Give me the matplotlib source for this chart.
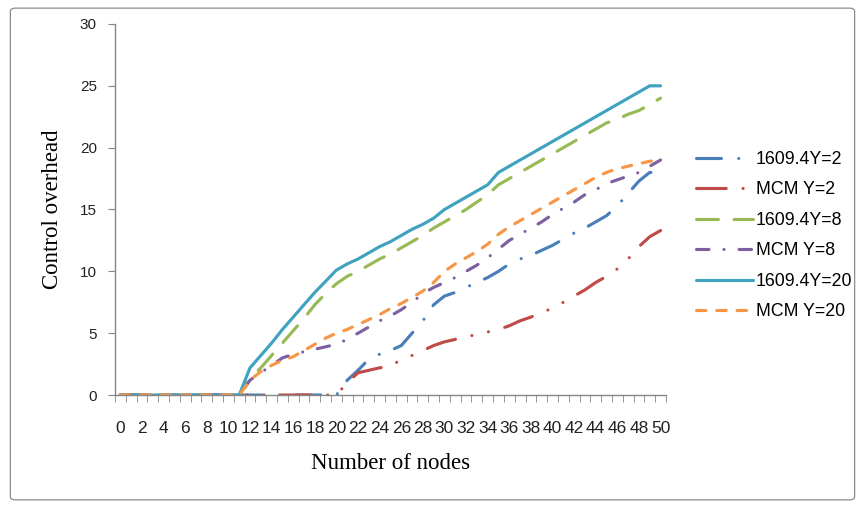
import matplotlib
matplotlib.use('Agg')
import matplotlib.pyplot as plt
from matplotlib.patches import FancyBboxPatch

plt.rcParams['font.family'] = ['Liberation Sans', 'DejaVu Sans']

# x categories 0..50, labels shown every 2
nodes = list(range(51))
tick_nodes = list(range(0, 51, 2))

p_y2 = [0, 0, 0, 0, 0, 0, 0, 0, 0, 0, 0, 0, 0, 0, 0, 0, 0, 0, 0, 0, 0,
        1.2, 2.0, 2.9, 3.3, 3.6, 4.0, 5.0, 6.0, 7.3, 8.0,
        8.3, 8.7, 9.1, 9.5, 10.0, 10.6, 11.0, 11.3, 11.7, 12.1,
        12.6, 13.1, 13.5, 14.0, 14.5, 15.3, 16.3, 17.3, 18.0, 18.0]
m_y2 = [0, 0, 0, 0, 0, 0, 0, 0, 0, 0, 0, 0, 0, 0, 0, 0, 0, 0, 0, 0, 0,
        1.0, 1.8, 2.0, 2.2, 2.3, 2.9, 3.2, 3.6, 4.0, 4.3,
        4.5, 4.7, 4.9, 5.1, 5.3, 5.6, 6.0, 6.3, 6.7, 7.0,
        7.5, 8.0, 8.5, 9.1, 9.6, 10.2, 11.0, 12.0, 12.8, 13.3]
p_y8 = [0, 0, 0, 0, 0, 0, 0, 0, 0, 0, 0, 0,
        1.3, 2.2, 3.2, 4.2, 5.2, 6.2, 7.3, 8.2, 9.0,
        9.6, 10.0, 10.5, 11.0, 11.4, 11.9, 12.4, 12.9, 13.5, 14.0,
        14.5, 15.0, 15.6, 16.2, 17.0, 17.5, 18.0, 18.5, 19.0, 19.5,
        20.0, 20.5, 21.0, 21.5, 22.0, 22.3, 22.7, 23.0, 23.5, 24.0]
m_y8 = [0, 0, 0, 0, 0, 0, 0, 0, 0, 0, 0, 0,
        1.2, 1.8, 2.4, 3.0, 3.3, 3.5, 3.7, 3.9, 4.1,
        4.5, 5.0, 5.5, 6.0, 6.4, 6.9, 7.5, 8.2, 8.7, 9.1,
        9.5, 10.0, 10.5, 11.1, 11.8, 12.5, 13.0, 13.5, 14.0, 14.6,
        15.1, 15.6, 16.2, 16.6, 17.1, 17.4, 17.7, 18.0, 18.5, 19.0]
p_y20 = [0, 0, 0, 0, 0, 0, 0, 0, 0, 0, 0, 0,
         2.2, 3.2, 4.2, 5.3, 6.3, 7.3, 8.3, 9.2, 10.1,
         10.6, 11.0, 11.5, 12.0, 12.4, 12.9, 13.4, 13.8, 14.3, 15.0,
         15.5, 16.0, 16.5, 17.0, 18.0, 18.5, 19.0, 19.5, 20.0, 20.5,
         21.0, 21.5, 22.0, 22.5, 23.0, 23.5, 24.0, 24.5, 25.0, 25.0]
m_y20 = [0, 0, 0, 0, 0, 0, 0, 0, 0, 0, 0, 0,
         1.2, 1.9, 2.4, 2.8, 3.1, 3.6, 4.1, 4.6, 5.0,
         5.3, 5.7, 6.1, 6.5, 7.0, 7.4, 7.9, 8.4, 9.1, 10.0,
         10.6, 11.1, 11.6, 12.2, 13.0, 13.6, 14.1, 14.6, 15.1, 15.6,
         16.1, 16.6, 17.1, 17.6, 18.0, 18.3, 18.5, 18.7, 18.9, 19.0]

series = [
    ('1609.4Y=2', p_y2, '#4A7EBB', (0, (8, 5.5, 0.01, 5.2))),
    ('MCM Y=2', m_y2, '#BE4B48', (0, (9.5, 5.4, 0.01, 5.4, 0.01, 5.4))),
    ('1609.4Y=8', p_y8, '#98B954', (0, (7, 5))),
    ('MCM Y=8', m_y8, '#7D60A0', (0, (4, 4.8, 0.01, 4.8))),
    ('1609.4Y=20', p_y20, '#3FA2BF', '-'),
    ('MCM Y=20', m_y20, '#F79646', (0, (3, 3.5))),
]

fig = plt.figure(figsize=(8.65, 5.08), dpi=100)
ax = fig.add_axes([0.1329, 0.2224, 0.637, 0.7304])

for label, vals, col, ls in series:
    ax.plot(nodes, vals, color=col, lw=2.25, linestyle=ls, label=label,
            dash_capstyle='round', solid_capstyle='round')

ax.set_xlim(-0.5, 50.5)
ax.set_ylim(0, 30)
ax.set_yticks([0, 5, 10, 15, 20, 25, 30])
ax.set_xticks(tick_nodes)
ax.set_xticklabels([str(n) for n in tick_nodes])
ax.set_xticks([n - 0.5 for n in nodes] + [50.5], minor=True)

for s in ['top', 'right']:
    ax.spines[s].set_visible(False)
for s in ['left', 'bottom']:
    ax.spines[s].set_color('#868686')
    ax.spines[s].set_linewidth(1.0)

ax.tick_params(axis='y', direction='out', length=5, color='#868686',
               labelsize=11, pad=8, labelcolor='#222222')
ax.tick_params(axis='x', which='major', length=0, labelsize=12.5, pad=19,
               labelcolor='#222222')
ax.tick_params(axis='x', which='minor', direction='out', length=5,
               color='#868686')

ax.set_xlabel('Number of nodes', family='Liberation Serif', fontsize=16.5,
              labelpad=12)
ax.set_ylabel('Control overhead', family='Liberation Serif', fontsize=16.5,
              labelpad=12)

ax.legend(loc='center left', bbox_to_anchor=(0.805, 0.536),
          bbox_transform=fig.transFigure, frameon=False, fontsize=12.8,
          handlelength=3.2, handletextpad=0.15, labelspacing=0.76,
          borderpad=0, borderaxespad=0)

frame = FancyBboxPatch((0.012, 0.016), 0.976, 0.968,
                       boxstyle='round,pad=0,rounding_size=0.006',
                       transform=fig.transFigure, fill=False,
                       ec='#8c8c8c', lw=0.9)
fig.patches.append(frame)

fig.savefig('out.png', dpi=100)
